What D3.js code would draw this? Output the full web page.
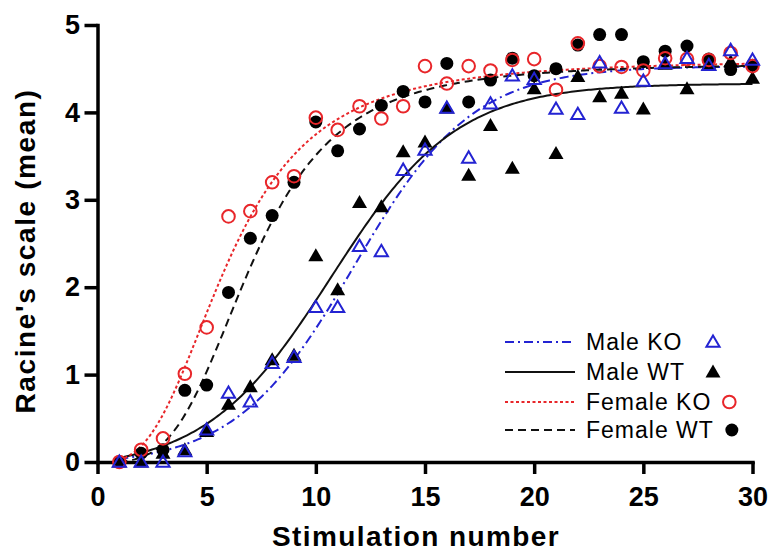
<!DOCTYPE html>
<html><head><meta charset="utf-8">
<script src="https://cdn.jsdelivr.net/npm/d3@7"></script>
<style>body{margin:0;background:#fff}svg{display:block}</style>
</head><body><svg id="c" width="771" height="553"></svg>
<script>
// ---- data ----
const stimulation = [1,2,3,4,5,6,7,8,9,10,11,12,13,14,15,16,17,18,19,20,21,22,23,24,25,26,27,28,29,30];
const maleKO   = [0,0,0,0.12,0.37,0.79,0.69,1.13,1.20,1.77,1.77,2.47,2.41,3.34,3.57,4.05,3.48,4.10,4.42,4.38,4.04,3.98,4.57,4.05,4.36,4.56,4.62,4.54,4.71,4.60];
const maleWT   = [0,0,0.10,0.14,0.35,0.66,0.86,1.17,1.22,2.36,1.97,2.97,2.92,3.55,3.66,4.05,3.28,3.85,3.36,4.27,3.53,4.41,4.18,4.22,4.04,4.55,4.27,4.55,4.58,4.39];
const femaleKO = [0,0.14,0.27,1.01,1.54,2.81,2.87,3.20,3.27,3.94,3.80,4.07,3.93,4.07,4.53,4.33,4.53,4.48,4.60,4.61,4.26,4.79,4.53,4.52,4.48,4.62,4.61,4.60,4.68,4.53];
const femaleWT = [0,0.10,0.14,0.82,0.88,1.94,2.56,2.82,3.20,3.89,3.56,3.81,4.08,4.24,4.12,4.56,4.12,4.37,4.62,4.42,4.50,4.77,4.89,4.89,4.58,4.70,4.76,4.61,4.49,4.54];
const seriesNames = ["Male KO","Male WT","Female KO","Female WT"];
const xTickValues = [0,5,10,15,20,25,30];
const yTickValues = [0,1,2,3,4,5];
// fitted sigmoid parameters
const maleKOFit   = {model:"boltzmann", bottom:-0.05, top:4.53, mid:11.75, slope:2.72};
const maleWTFit   = {model:"boltzmann", bottom:-0.10, top:4.33, mid:10.70, slope:2.877};
const femaleKOFit = {model:"hill", bottom:0, top:4.60, mid:6.00, slope:2.9};
const femaleWTFit = {model:"hill", bottom:0, top:4.56, mid:7.09, slope:3.51};
const xTitle = "Stimulation number";
const yTitle = "Racine's scale (mean)";

// ---- drawing ----
const FONT = "'Liberation Sans', Arial, Helvetica, sans-serif";
const BLUE = "#2323d2", RED = "#e8262a";
const svg = d3.select("#c");
const x = d3.scaleLinear().domain([0,30]).range([97.5,752.5]);
const y = d3.scaleLinear().domain([0,5]).range([462,25]);

function fitValue(p, s){
  if (p.model === "hill") {
    const r = Math.pow(s/p.mid, p.slope);
    return p.bottom + (p.top-p.bottom)*r/(1+r);
  }
  return p.bottom + (p.top-p.bottom)/(1+Math.exp((p.mid-s)/p.slope));
}

const series = [
  {name:seriesNames[0], values:maleKO,   fit:maleKOFit,   lineColor:BLUE,   dash:"9,4,2,4", marker:"triOpen"},
  {name:seriesNames[1], values:maleWT,   fit:maleWTFit,   lineColor:"#111", dash:null,      marker:"triFill"},
  {name:seriesNames[2], values:femaleKO, fit:femaleKOFit, lineColor:RED,    dash:"3,2.5",   marker:"circOpen"},
  {name:seriesNames[3], values:femaleWT, fit:femaleWTFit, lineColor:"#111", dash:"8,5",     marker:"circFill"}
];

// curves
const sx = d3.range(stimulation[0], stimulation[stimulation.length-1]+0.001, 0.1);
const line = d3.line().x(d=>x(d[0])).y(d=>y(Math.max(0,d[1])));
series.forEach(s=>{
  svg.append("path")
    .attr("d", line(sx.map(v=>[v, fitValue(s.fit, v)])))
    .attr("fill","none").attr("stroke", s.lineColor).attr("stroke-width",2)
    .attr("stroke-dasharray", s.dash);
});

// axes
const gx = svg.append("g").attr("transform","translate(0,462)")
  .call(d3.axisBottom(x).tickValues(xTickValues).tickFormat(d3.format("d")).tickSize(12).tickSizeOuter(0).tickPadding(13));
const gy = svg.append("g").attr("transform","translate(97.5,0)")
  .call(d3.axisLeft(y).tickValues(yTickValues).tickFormat(d3.format("d")).tickSize(13).tickSizeOuter(0).tickPadding(4.5));
[gx,gy].forEach(g=>{
  g.select(".domain").attr("stroke","#000").attr("stroke-width",3.5).attr("stroke-linecap","square");
  g.selectAll(".tick line").attr("stroke","#000").attr("stroke-width",3.5);
  g.selectAll(".tick text").attr("fill","#000").style("font-family",FONT)
    .style("font-size","27px").style("font-weight","bold");
});

// markers
function drawMarkers(g, type, pts){
  const sel = g.append("g").selectAll("path").data(pts).enter();
  if (type==="circFill") {
    sel.append("circle").attr("cx",d=>d[0]).attr("cy",d=>d[1]).attr("r",6.5).attr("fill","#000");
  } else if (type==="circOpen") {
    sel.append("circle").attr("cx",d=>d[0]).attr("cy",d=>d[1]).attr("r",6.3)
      .attr("fill","none").attr("stroke",RED).attr("stroke-width",2);
  } else if (type==="triFill") {
    sel.append("path").attr("d","M0,-7.5L7.5,5.5L-7.5,5.5Z").attr("transform",d=>`translate(${d[0]},${d[1]})`).attr("fill","#000");
  } else {
    sel.append("path").attr("d","M0,-6.5L6.6,4.8L-6.6,4.8Z").attr("transform",d=>`translate(${d[0]},${d[1]})`)
      .attr("fill","none").attr("stroke",BLUE).attr("stroke-width",2).attr("stroke-linejoin","miter");
  }
}
const markerOrder = [3,1,2,0];
markerOrder.forEach(i=>{
  const s = series[i];
  drawMarkers(svg, s.marker, stimulation.map((st,k)=>[x(st), y(s.values[k])]));
});

// legend
const legendRows = [342,372,402,430];
series.forEach((s,i)=>{
  const ly = legendRows[i];
  svg.append("line").attr("x1",505).attr("x2",575).attr("y1",ly).attr("y2",ly)
    .attr("stroke",s.lineColor).attr("stroke-width",2).attr("stroke-dasharray",s.dash);
  const t = svg.append("text").attr("x",586).attr("y",ly).attr("dy","0.36em")
    .style("font-family",FONT).style("font-size","23px").style("letter-spacing","1px")
    .attr("fill","#000").text(s.name);
  const end = 586 + t.node().getComputedTextLength();
  const mx = Math.max(end + 18, 713);
  drawMarkers(svg, s.marker, [[mx, ly]]);
});

// titles
svg.append("text").attr("x",416).attr("y",546).attr("text-anchor","middle")
  .style("font-family",FONT).style("font-size","28px").style("font-weight","bold")
  .style("letter-spacing","1.4px").text(xTitle);
svg.append("text").attr("transform","translate(35,251) rotate(-90)").attr("text-anchor","middle")
  .style("font-family",FONT).style("font-size","28px").style("font-weight","bold")
  .style("letter-spacing","1.6px").text(yTitle);
</script></body></html>
